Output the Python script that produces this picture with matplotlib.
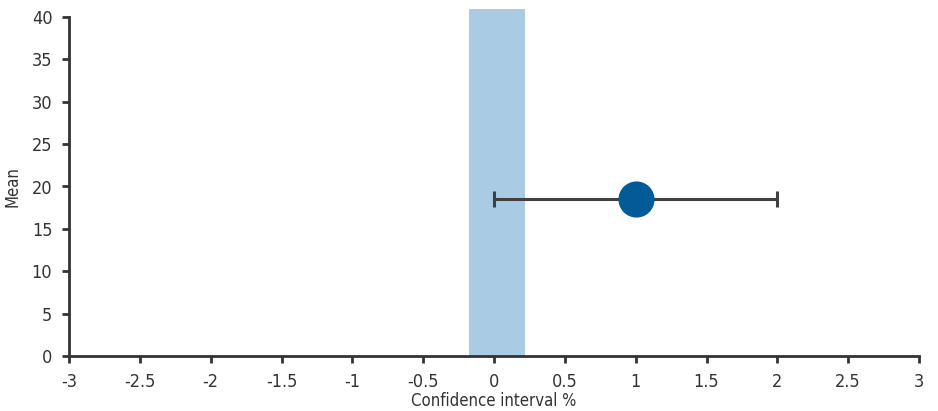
import matplotlib.pyplot as plt

# estimate and its confidence interval
mean_x = [1.0]
mean_y = [18.5]
ci_low = [0.0]
ci_high = [2.0]
# shaded reference band
band_lo, band_hi = -0.18, 0.22
band_top = 41

plt.rcParams['font.family'] = ['DejaVu Sans']
plt.rcParams['font.stretch'] = 'condensed'

fig = plt.figure(figsize=(9.38, 4.11), dpi=100)
ax = fig.add_axes([69/938, 1 - 356/411, 850/938, 339/411])

ax.bar([(band_lo + band_hi) / 2], [band_top], width=band_hi - band_lo,
       color='#a9cbe3', clip_on=False, zorder=1)

xerr = [[mean_x[0] - ci_low[0]], [ci_high[0] - mean_x[0]]]
ax.errorbar(mean_x, mean_y, xerr=xerr, fmt='none', ecolor='#404040',
            elinewidth=2.2, capsize=6, capthick=2.2, zorder=2)
ax.plot(mean_x, mean_y, 'o', color='#005b96', markersize=25, zorder=3)

ax.set_xlim(-3, 3)
ax.set_ylim(0, 40)
ax.set_xticks([-3, -2.5, -2, -1.5, -1, -0.5, 0, 0.5, 1, 1.5, 2, 2.5, 3])
ax.set_xticklabels(['-3', '-2.5', '-2', '-1.5', '-1', '-0.5', '0', '0.5', '1', '1.5', '2', '2.5', '3'])
ax.set_yticks(range(0, 41, 5))

for s in ['top', 'right']:
    ax.spines[s].set_visible(False)
for s in ['left', 'bottom']:
    ax.spines[s].set_color('#333333')
    ax.spines[s].set_linewidth(2)
ax.tick_params(colors='#333333', labelsize=13, width=2, length=5, pad=7)

ax.set_xlabel('Confidence interval %', fontsize=12, color='#333333')
ax.xaxis.set_label_coords(0.5, -0.105)
ax.set_ylabel('Mean', fontsize=12, color='#333333')
ax.yaxis.set_label_coords(-0.056, 0.5)

fig.savefig('out.png', dpi=100)
